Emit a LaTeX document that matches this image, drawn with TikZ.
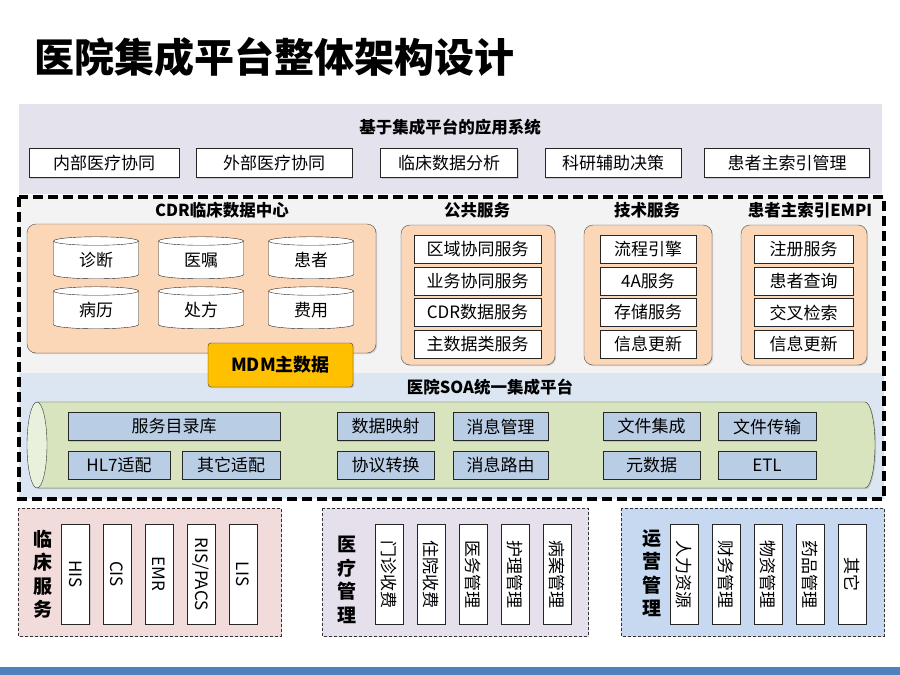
\documentclass[tikz,border=0pt]{standalone}
\usepackage{fontspec}
\setmainfont{Noto Sans CJK SC}
\usetikzlibrary{shapes.geometric,shadows}

\definecolor{toppanel}{RGB}{228,226,237}
\definecolor{midgray}{RGB}{243,243,244}
\definecolor{peach}{RGB}{251,214,183}
\definecolor{mdmgold}{RGB}{255,192,0}
\definecolor{soapanel}{RGB}{220,230,242}
\definecolor{pipegreen}{RGB}{215,228,189}
\definecolor{pipeend}{RGB}{233,240,220}
\definecolor{svcblue}{RGB}{185,205,229}
\definecolor{clinpink}{RGB}{242,220,219}
\definecolor{medlilac}{RGB}{229,224,236}
\definecolor{opsblue}{RGB}{198,217,241}
\definecolor{barblue}{RGB}{79,129,189}

\tikzset{
  softshadow/.style={drop shadow={shadow xshift=1.2pt, shadow yshift=-1.2pt, opacity=0.3}},
  secttitle/.style={font=\bfseries\fontsize{16.5}{18}\selectfont},
  appbox/.style={draw=black!85, fill=white, minimum height=29pt, inner sep=0pt, font=\fontsize{17}{19}\selectfont, softshadow},
  groupbox/.style={draw=black!70, fill=peach, rounded corners=9pt, softshadow},
  dbcyl/.style={cylinder, shape border rotate=90, aspect=0.25, draw=black!85, fill=white, minimum width=85pt, minimum height=42pt, inner sep=0pt, font=\fontsize{17}{19}\selectfont},
  svcbox/.style={draw=black!85, fill=white, minimum height=28pt, inner sep=0pt, font=\fontsize{17}{19}\selectfont},
  soabox/.style={draw=black!85, fill=svcblue, minimum height=28pt, inner sep=0pt, font=\fontsize{17}{19}\selectfont, softshadow},
  areabox/.style={draw=black!80, line width=0.8pt, dash pattern=on 3pt off 2pt, softshadow},
  arealabel/.style={align=center, font=\bfseries\fontsize{19}{23.5}\selectfont},
  sysbox/.style={draw=black!85, fill=white, rotate=-90, minimum width=100pt, minimum height=28pt, inner sep=0pt, font=\fontsize{17}{19}\selectfont, softshadow}
}

\begin{document}
\begin{tikzpicture}[x=1pt,y=-1pt]
\useasboundingbox (0,0) rectangle (900,675);
\fill[white] (0,0) rectangle (900,675);

% title
\node[anchor=west, font=\bfseries\fontsize{40}{42}\selectfont] (title) at (31,57) {医院集成平台整体架构设计};

% application systems
\fill[toppanel] (19,104) rectangle (882,194);
\node[secttitle] (appTitle) at (450,127) {基于集成平台的应用系统};
\node[appbox, minimum width=150pt] (appInner) at (104,163) {内部医疗协同};
\node[appbox, minimum width=156pt] (appOuter) at (274,163) {外部医疗协同};
\node[appbox, minimum width=137pt] (appClinic) at (449,163) {临床数据分析};
\node[appbox, minimum width=136pt] (appResearch) at (613,163) {科研辅助决策};
\node[appbox, minimum width=165pt] (appIndex) at (787,163) {患者主索引管理};

% backgrounds inside the dashed frame
\fill[midgray] (19,195) rectangle (884,373);
\fill[soapanel] (19,373) rectangle (884,499);

% CDR
\node[secttitle] (cdrTitle) at (222,210) {CDR临床数据中心};
\draw[groupbox] (27,224) rectangle (376,353);
\node[dbcyl] (dbDiag) at (96,260) {诊断};
\node[dbcyl] (dbOrder) at (201,260) {医嘱};
\node[dbcyl] (dbPatient) at (311,260) {患者};
\node[dbcyl] (dbRecord) at (96,310) {病历};
\node[dbcyl] (dbPrescr) at (201,310) {处方};
\node[dbcyl] (dbCost) at (311,310) {费用};

% public services
\node[secttitle] (pubTitle) at (477,210) {公共服务};
\draw[groupbox] (401,225) rectangle (555,365);
\node[svcbox, minimum width=127pt] (pubRegion) at (477.5,249) {区域协同服务};
\node[svcbox, minimum width=127pt] (pubBusiness) at (477.5,281) {业务协同服务};
\node[svcbox, minimum width=127pt] (pubCdr) at (477.5,312.5) {CDR数据服务};
\node[svcbox, minimum width=127pt] (pubMaster) at (477.5,344) {主数据类服务};

% technical services
\node[secttitle] (techTitle) at (647,210) {技术服务};
\draw[groupbox] (584,225) rectangle (712,365);
\node[svcbox, minimum width=96pt] (techFlow) at (648,249) {流程引擎};
\node[svcbox, minimum width=96pt] (tech4a) at (648,281) {4A服务};
\node[svcbox, minimum width=96pt] (techStore) at (648,312.5) {存储服务};
\node[svcbox, minimum width=96pt] (techUpdate) at (648,344) {信息更新};

% EMPI
\node[secttitle] (empiTitle) at (810,210) {患者主索引EMPI};
\draw[groupbox] (741,225) rectangle (867,365);
\node[svcbox, minimum width=99pt] (empiReg) at (803.5,249) {注册服务};
\node[svcbox, minimum width=99pt] (empiQuery) at (803.5,281) {患者查询};
\node[svcbox, minimum width=99pt] (empiCross) at (803.5,312.5) {交叉检索};
\node[svcbox, minimum width=99pt] (empiUpdate) at (803.5,344) {信息更新};

% MDM
\node[draw=black!80, fill=mdmgold, rounded corners=3pt, minimum width=145pt, minimum height=44pt, font=\bfseries\fontsize{18}{20}\selectfont, softshadow] (mdm) at (280.5,365) {MDM主数据};

% SOA platform
\node[secttitle] (soaTitle) at (490,387) {医院SOA统一集成平台};
\draw[draw=black!80, fill=pipegreen, softshadow] (37,402) -- (865,402) arc[start angle=-90, end angle=90, x radius=10, y radius=43] -- (37,488) -- cycle;
\draw[draw=black!80, fill=pipeend] (37,445) ellipse[x radius=10, y radius=43];

\node[soabox, minimum width=212pt] (soaCatalog) at (174,426.5) {服务目录库};
\node[soabox, minimum width=97pt] (soaMapping) at (385.5,426.5) {数据映射};
\node[soabox, minimum width=95pt] (soaMsgMgmt) at (500.5,426.5) {消息管理};
\node[soabox, minimum width=97pt] (soaFileInt) at (651.5,426.5) {文件集成};
\node[soabox, minimum width=98pt] (soaFileTrans) at (767,426.5) {文件传输};
\node[soabox, minimum width=102pt] (soaHl7) at (119,465) {HL7适配};
\node[soabox, minimum width=98pt] (soaOther) at (231,465) {其它适配};
\node[soabox, minimum width=97pt] (soaProtocol) at (385.5,465) {协议转换};
\node[soabox, minimum width=95pt] (soaRouting) at (500.5,465) {消息路由};
\node[soabox, minimum width=97pt] (soaMeta) at (651.5,465) {元数据};
\node[soabox, minimum width=98pt] (soaEtl) at (767,465) {ETL};

\draw[line width=3.4pt, dash pattern=on 10pt off 5pt] (19,197) rectangle (884,499);

% clinical services
\draw[areabox, fill=clinpink] (18,508) rectangle (281,636);
\node[arealabel] (clinLabel) at (43,574) {临\\床\\服\\务};
\node[sysbox] (sysHis) at (75.5,574) {HIS};
\node[sysbox] (sysCis) at (117,574) {CIS};
\node[sysbox] (sysEmr) at (159,574) {EMR};
\node[sysbox] (sysPacs) at (201,574) {RIS/PACS};
\node[sysbox] (sysLis) at (243,574) {LIS};

% medical management
\draw[areabox, fill=medlilac] (322,508) rectangle (588,636);
\node[arealabel] (medLabel) at (347,580) {医\\疗\\管\\理};
\node[sysbox] (medOutpat) at (389,574) {门诊收费};
\node[sysbox] (medInpat) at (431,574) {住院收费};
\node[sysbox] (medAffairs) at (473,574) {医务管理};
\node[sysbox] (medNursing) at (515,574) {护理管理};
\node[sysbox] (medCases) at (557,574) {病案管理};

% operations management
\draw[areabox, fill=opsblue] (621,508) rectangle (884,636);
\node[arealabel] (opsLabel) at (652,573) {运\\营\\管\\理};
\node[sysbox] (opsHr) at (684,574) {人力资源};
\node[sysbox] (opsFinance) at (726,574) {财务管理};
\node[sysbox] (opsMaterial) at (768,574) {物资管理};
\node[sysbox] (opsDrug) at (810,574) {药品管理};
\node[sysbox] (opsOther) at (852,574) {其它};

% bottom bar
\fill[barblue] (0,667) rectangle (900,675);
\end{tikzpicture}
\end{document}
